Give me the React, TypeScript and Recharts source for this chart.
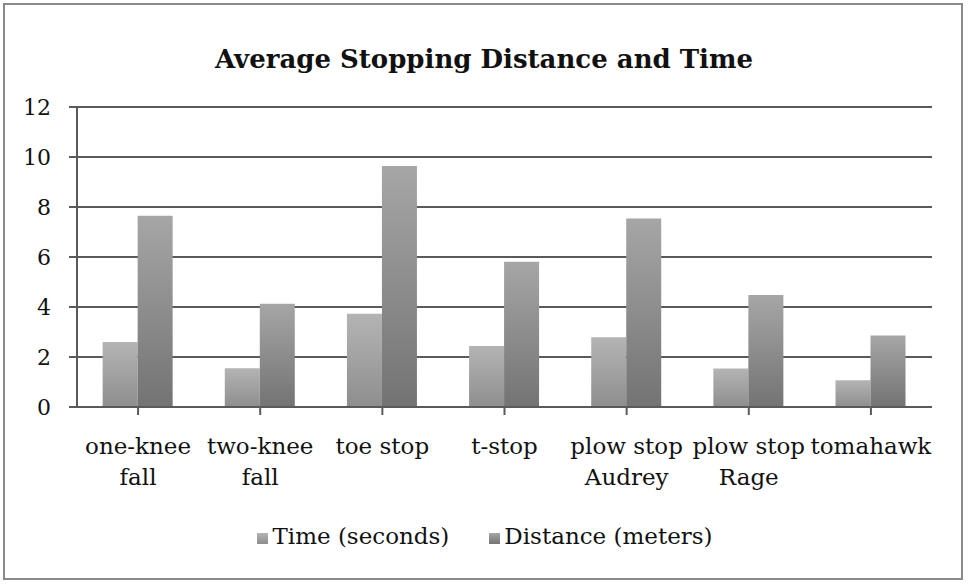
import { Bar, BarChart, CartesianGrid, Legend, XAxis, YAxis } from "recharts";

const categories = [
  "one-knee\nfall",
  "two-knee\nfall",
  "toe stop",
  "t-stop",
  "plow stop\nAudrey",
  "plow stop\nRage",
  "tomahawk",
];
const timeSeconds = [2.6, 1.55, 3.73, 2.44, 2.79, 1.54, 1.07];
const distanceMeters = [7.65, 4.13, 9.64, 5.81, 7.54, 4.48, 2.86];
const yTicks = [0, 2, 4, 6, 8, 10, 12];

const data = categories.map((name, i) => ({
  name,
  time: timeSeconds[i],
  distance: distanceMeters[i],
}));

const FONT = "'DejaVu Serif', serif";
const seriesOrder = ["time", "distance"];

function CategoryTick({ x, y, payload }: any) {
  const lines = String(payload.value).split("\n");
  return (
    <text x={x} y={y + 37} textAnchor="middle" fill="#111" fontFamily={FONT} fontSize={23}>
      {lines.map((l, i) => (
        <tspan key={i} x={x} dy={i === 0 ? 0 : 31}>
          {l}
        </tspan>
      ))}
    </text>
  );
}

export default function App() {
  return (
    <div style={{ position: "absolute", left: 0, top: 0, width: 968, height: 585, background: "#fff" }}>
      <div
        style={{
          position: "absolute",
          left: 3,
          top: 3,
          width: 960,
          height: 577,
          border: "2px solid #8a8a8a",
          boxSizing: "border-box",
        }}
      />
      <div
        style={{
          position: "absolute",
          left: 0,
          width: 968,
          top: 44,
          textAlign: "center",
          fontFamily: FONT,
          fontWeight: "bold",
          fontSize: 26,
          color: "#111",
        }}
      >
        Average Stopping Distance and Time
      </div>
      <BarChart
        width={968}
        height={585}
        data={data}
        margin={{ top: 107, right: 36, bottom: 147, left: 76 }}
        barCategoryGap="21%"
        barGap={0}
      >
        <defs>
          <linearGradient id="gTime" x1="0" y1="0" x2="0" y2="1">
            <stop offset="0%" stopColor="#b4b4b4" />
            <stop offset="100%" stopColor="#8e8e8e" />
          </linearGradient>
          <linearGradient id="gDist" x1="0" y1="0" x2="0" y2="1">
            <stop offset="0%" stopColor="#a6a6a6" />
            <stop offset="100%" stopColor="#737373" />
          </linearGradient>
        </defs>
        <CartesianGrid vertical={false} stroke="#5a5a5a" strokeWidth={2} />
        <XAxis
          dataKey="name"
          interval={0}
          tick={<CategoryTick />}
          stroke="#5a5a5a"
          strokeWidth={2}
          tickSize={8}
          height={1}
        />
        <YAxis
          ticks={yTicks}
          domain={[0, 12]}
          interval={0}
          stroke="#5a5a5a"
          strokeWidth={2}
          tickSize={8}
          tickMargin={18}
          tick={{ fill: "#111", fontFamily: FONT, fontSize: 22 }}
          width={1}
        />
        <Legend
          verticalAlign="bottom"
          iconType="square"
          iconSize={11}
          itemSorter={(item: any) => seriesOrder.indexOf(item.dataKey)}
          wrapperStyle={{
            position: "absolute",
            top: 523,
            left: 6,
            width: 968,
            height: 30,
            fontFamily: FONT,
            fontSize: 23,
          }}
          formatter={(v, _e, i) => (
            <span style={{ color: "#111", marginRight: i === 0 ? 30 : 0 }}>{v}</span>
          )}
        />
        <Bar dataKey="time" name="Time (seconds)" fill="url(#gTime)" legendType="square" isAnimationActive={false} />
        <Bar dataKey="distance" name="Distance (meters)" fill="url(#gDist)" legendType="square" isAnimationActive={false} />
      </BarChart>
    </div>
  );
}
